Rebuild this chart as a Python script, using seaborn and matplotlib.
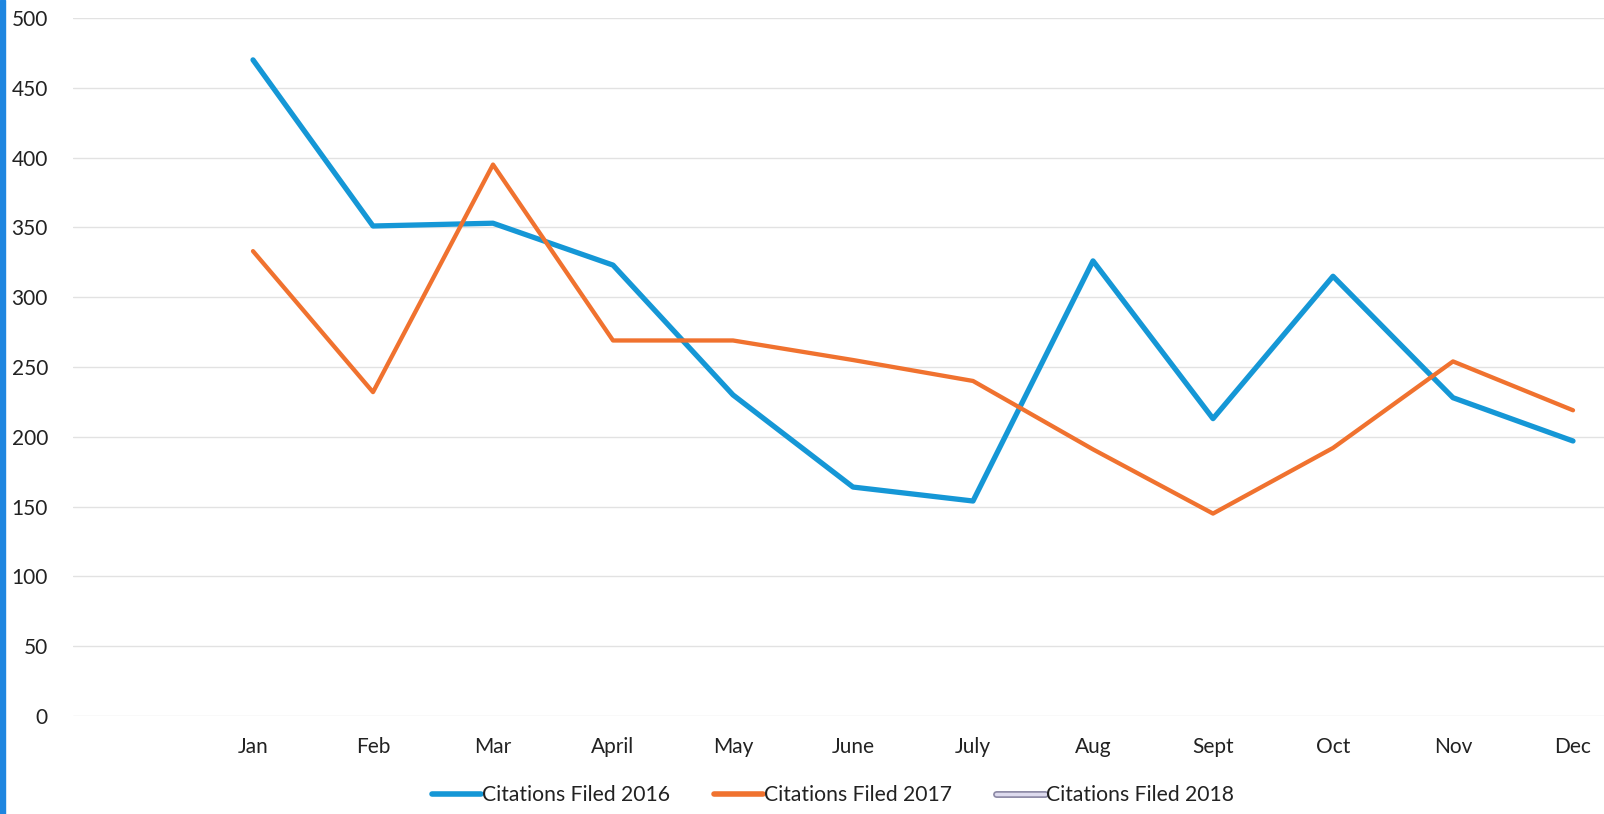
import numpy as np
import pandas as pd
import matplotlib
matplotlib.use("Agg")
import matplotlib.pyplot as plt
import matplotlib.patheffects as pe
from matplotlib.lines import Line2D
from matplotlib.patches import Rectangle
import seaborn as sns

# Monthly citation counts
months = ["Jan", "Feb", "Mar", "April", "May", "June", "July", "Aug", "Sept", "Oct", "Nov", "Dec"]
citations_2016 = [470, 351, 353, 323, 230, 164, 154, 326, 213, 315, 228, 197]
citations_2017 = [333, 232, 395, 269, 269, 255, 240, 191, 145, 192, 254, 219]
citations_2018 = [np.nan] * 12  # no figures reported yet

y_ticks = [0, 50, 100, 150, 200, 250, 300, 350, 400, 450, 500]
series_names = ["Citations Filed 2016", "Citations Filed 2017", "Citations Filed 2018"]

sns.set_theme(style="white")
plt.rcParams["font.family"] = ["Lato", "DejaVu Sans"]

blue = "#1597d6"
orange = "#f0722f"

# Category axis keeps an empty slot before January
categories = [""] + months
pos = {m: i for i, m in enumerate(categories)}

df = pd.DataFrame({
    "month": months * 3,
    "x": [pos[m] for m in months] * 3,
    "value": citations_2016 + citations_2017 + citations_2018,
    "series": [series_names[0]] * 12 + [series_names[1]] * 12 + [series_names[2]] * 12,
})

fig = plt.figure(figsize=(16.04, 8.14), dpi=100)
ax = fig.add_axes([73 / 1604, 1 - 716 / 814, 1560 / 1604, 698 / 814])

sns.lineplot(data=df[df.series == series_names[0]], x="x", y="value", color=blue,
             linewidth=3.8, ax=ax, legend=False)
sns.lineplot(data=df[df.series == series_names[1]], x="x", y="value", color=orange,
             linewidth=3.1, ax=ax, legend=False)

ax.set_xlim(-0.5, len(categories) - 0.5)
ax.set_ylim(0, 500)
ax.set_yticks(y_ticks)
ax.set_xticks(range(len(categories)))
ax.set_xticklabels(categories)
ax.set_xlabel("")
ax.set_ylabel("")
ax.yaxis.grid(True, color="#e2e2e2", linewidth=1.0)
ax.xaxis.grid(False)
for s in ax.spines.values():
    s.set_visible(False)
ax.tick_params(axis="y", labelsize=15, pad=18, length=0, colors="#222222")
ax.tick_params(axis="x", labelsize=15, pad=15, length=0, colors="#222222")
ax.set_axisbelow(True)

handles = [
    Line2D([], [], color=blue, linewidth=4),
    Line2D([], [], color=orange, linewidth=4),
    Line2D([], [], color="#dedbee", linewidth=2.5,
           path_effects=[pe.Stroke(linewidth=5, foreground="#8d8aa6"), pe.Normal()]),
]
fig.legend(handles, series_names, loc="center", bbox_to_anchor=(833 / 1604, 1 - 795 / 814),
           ncol=3, frameon=False, fontsize=15.2, handlelength=2.3, handletextpad=0.05,
           columnspacing=2.1, labelcolor="#222222")

# Blue strip along the left edge
fig.patches.append(Rectangle((0, 0), 5 / 1604, 1, transform=fig.transFigure,
                             color="#1e86e0", zorder=10))

fig.savefig("out.png", dpi=100)
